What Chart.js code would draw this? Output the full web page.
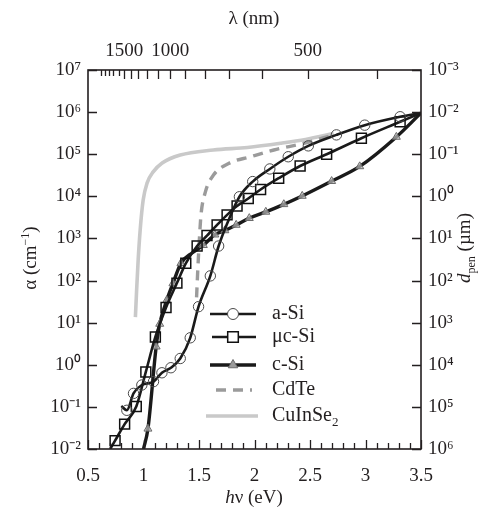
<!DOCTYPE html>
<html>
<head>
<meta charset="utf-8">
<script src="https://cdn.jsdelivr.net/npm/chart.js@4.4.1/dist/chart.umd.min.js"></script>
<style>
  html, body { margin: 0; padding: 0; background: #fff; }
  #wrap { width: 486px; height: 513px; }
</style>
</head>
<body>
<div id="wrap"><canvas id="absChart" width="486" height="513"></canvas></div>
<script>
// Photon energy (eV) and absorption coefficient (cm^-1)
const aSiEnergy = [0.80, 0.85, 0.91, 0.985, 1.09, 1.166, 1.247, 1.331, 1.421, 1.496, 1.602, 1.677, 1.767, 1.864, 1.984, 2.138, 2.304, 2.485, 2.738, 2.993, 3.312, 3.5];
const aSiAlpha = [0.105, 0.083, 0.209, 0.331, 0.398, 0.646, 0.851, 1.41, 4.37, 24, 129, 661, 2750, 9770, 22400, 44700, 87100, 158000, 288000, 490000, 776000, 955000];
const aSiBare = [0.80, 1.767, 3.5];   // energies drawn without a marker

const ucSiEnergy = [0.70, 0.744, 0.830, 0.935, 1.021, 1.107, 1.203, 1.301, 1.381, 1.483, 1.572, 1.663, 1.753, 1.843, 1.944, 2.055, 2.218, 2.411, 2.650, 2.963, 3.312, 3.5];
const ucSiAlpha = [0.01, 0.0158, 0.0389, 0.102, 0.676, 4.57, 22.9, 87.1, 257, 661, 1170, 2090, 3630, 5890, 8910, 14500, 26900, 52500, 100000, 240000, 589000, 955000];
const ucSiBare = [0.70, 3.5];

const cSiEnergy = [1.0, 1.040, 1.114, 1.146, 1.209, 1.265, 1.337, 1.44, 1.539, 1.643, 1.733, 1.835, 1.953, 2.102, 2.264, 2.430, 2.695, 2.948, 3.278, 3.5];
const cSiAlpha = [0.01, 0.0302, 2.69, 9.33, 33.9, 85.1, 257, 457, 692, 1230, 1550, 2090, 3020, 4270, 6460, 10200, 22900, 51300, 257000, 955000];
const cSiBare = [1.0, 1.44, 3.5];

const cdTeEnergy = [1.478, 1.489, 1.503, 1.518, 1.557, 1.632, 1.767, 1.963, 2.174, 2.445, 2.70];
const cdTeAlpha = [39.8, 178, 912, 3630, 12600, 32400, 60300, 87100, 126000, 182000, 282000];

const cisEnergy = [0.927, 0.938, 0.952, 0.970, 0.997, 1.033, 1.087, 1.168, 1.331, 1.629, 1.936, 2.234, 2.460, 2.713];
const cisAlpha = [13.5, 58.9, 309, 1580, 8130, 20900, 38000, 61700, 95500, 126000, 145000, 182000, 224000, 309000];

// Axis ticks
const energyLabels = [0.5, 1, 1.5, 2, 2.5, 3, 3.5];
const alphaTicks = [1e-2, 1e-1, 1e0, 1e1, 1e2, 1e3, 1e4, 1e5, 1e6, 1e7];
const dpenTicks = [1e-3, 1e-2, 1e-1, 1e0, 1e1, 1e2, 1e3, 1e4, 1e5, 1e6];
const wavelengthTicks = [2000, 1900, 1800, 1700, 1600, 1500, 1400, 1300, 1200, 1100, 1000, 900, 800, 700, 600, 500, 400];
const wavelengthLabels = [1500, 1000, 500];

const SERIF = '"Liberation Serif", "Times New Roman", Times, serif';
const INK = '#231f20';

const supDigits = { '0': '⁰', '1': '¹', '2': '²', '3': '³', '4': '⁴', '5': '⁵', '6': '⁶', '7': '⁷', '8': '⁸', '9': '⁹', '-': '⁻' };
function powerLabel(v) {
    const e = String(Math.round(Math.log10(v)));
    return '10' + e.split('').map(c => supDigits[c]).join('');
}

function points(xs, ys) {
    return xs.map((x, i) => ({ x: x, y: ys[i] }));
}

function markerSize(xs, bare, r) {
    return ctx => bare.includes(xs[ctx.dataIndex]) ? 0 : r;
}

// Inward ticks and the plot frame
const frameTicks = {
    id: 'frameTicks',
    afterDatasetsDraw(chart) {
        const { ctx, chartArea: a, scales } = chart;
        ctx.save();
        ctx.strokeStyle = INK;
        ctx.lineWidth = 1.3;
        ctx.beginPath();
        scales.x.ticks.forEach(t => {
            const px = Math.round(scales.x.getPixelForValue(t.value)) + 0.5;
            const major = Math.abs(t.value * 2 - Math.round(t.value * 2)) < 1e-6;
            ctx.moveTo(px, a.bottom);
            ctx.lineTo(px, a.bottom - (major ? 9 : 6));
        });
        scales.x2.ticks.forEach(t => {
            const px = Math.round(scales.x2.getPixelForValue(t.value)) + 0.5;
            const lam = Math.round(1240 / t.value);
            ctx.moveTo(px, a.top);
            ctx.lineTo(px, a.top + (lam > 1500 ? 6 : 9));
        });
        scales.y.ticks.forEach(t => {
            const py = Math.round(scales.y.getPixelForValue(t.value)) + 0.5;
            ctx.moveTo(a.left, py);
            ctx.lineTo(a.left + 9, py);
        });
        scales.y2.ticks.forEach(t => {
            const py = Math.round(scales.y2.getPixelForValue(t.value)) + 0.5;
            ctx.moveTo(a.right, py);
            ctx.lineTo(a.right - 9, py);
        });
        ctx.stroke();
        ctx.lineWidth = 1.6;
        ctx.strokeRect(a.left, a.top, a.right - a.left, a.bottom - a.top);
        ctx.restore();
    }
};

// Axis titles with italic / sub / superscript parts
function drawRuns(ctx, runs, cx, cy) {
    let total = 0;
    runs.forEach(r => { ctx.font = r.font; total += ctx.measureText(r.text).width; });
    let x = cx - total / 2;
    runs.forEach(r => {
        ctx.font = r.font;
        ctx.fillText(r.text, x, cy + (r.dy || 0));
        x += ctx.measureText(r.text).width;
    });
}

const axisTitles = {
    id: 'axisTitles',
    afterDraw(chart) {
        const ctx = chart.ctx;
        ctx.save();
        ctx.fillStyle = INK;
        ctx.textBaseline = 'alphabetic';
        const reg = '19px ' + SERIF;
        const ital = 'italic 19px ' + SERIF;
        const small = '12px ' + SERIF;

        drawRuns(ctx, [{ text: 'λ (nm)', font: reg }], 254, 24);
        drawRuns(ctx, [{ text: 'h', font: ital }, { text: 'ν (eV)', font: reg }], 254, 503);

        ctx.save();
        ctx.translate(36, 258);
        ctx.rotate(-Math.PI / 2);
        drawRuns(ctx, [{ text: 'α (cm', font: reg }, { text: '−1', font: small, dy: -7 }, { text: ')', font: reg }], 0, 0);
        ctx.restore();

        ctx.save();
        ctx.translate(470, 248);
        ctx.rotate(-Math.PI / 2);
        drawRuns(ctx, [{ text: 'd', font: ital }, { text: 'pen', font: small, dy: 5 }, { text: ' (µm)', font: reg }], 0, 0);
        ctx.restore();
        ctx.restore();
    }
};

// Legend drawn inside the plot
function drawMarker(ctx, style, x, y, r) {
    ctx.beginPath();
    if (style === 'circle') {
        ctx.arc(x, y, r, 0, Math.PI * 2);
    } else if (style === 'rect') {
        const s = Math.SQRT1_2 * r;
        ctx.rect(x - s, y - s, 2 * s, 2 * s);
    } else if (style === 'triangle') {
        ctx.moveTo(x, y - r);
        ctx.lineTo(x + r * 0.866, y + r * 0.5);
        ctx.lineTo(x - r * 0.866, y + r * 0.5);
        ctx.closePath();
    }
    ctx.fill();
    ctx.stroke();
}

const insideLegend = {
    id: 'insideLegend',
    afterDraw(chart) {
        const ctx = chart.ctx;
        const rows = [314, 337, 365, 390, 416];
        const spans = [[210, 256], [212, 256], [210, 256], [216, 252], [206, 258]];
        ctx.save();
        chart.data.datasets.forEach((ds, i) => {
            const y = rows[i];
            ctx.strokeStyle = ds.borderColor;
            ctx.lineWidth = ds.borderWidth;
            ctx.setLineDash(ds.borderDash || []);
            ctx.beginPath();
            ctx.moveTo(spans[i][0], y);
            ctx.lineTo(spans[i][1], y);
            ctx.stroke();
            ctx.setLineDash([]);
            if (ds.pointStyle) {
                ctx.strokeStyle = ds.pointBorderColor;
                ctx.lineWidth = ds.pointBorderWidth;
                ctx.fillStyle = ds.legendFill;
                drawMarker(ctx, ds.pointStyle, 233, y, ds.legendRadius);
            }
            ctx.fillStyle = INK;
            ctx.textBaseline = 'middle';
            ctx.font = '20px ' + SERIF;
            if (ds.label === 'CuInSe2') {
                ctx.fillText('CuInSe', 272, y);
                const w = ctx.measureText('CuInSe').width;
                ctx.font = '13px ' + SERIF;
                ctx.fillText('2', 272 + w, y + 7);
            } else {
                ctx.fillText(ds.label, 272, y);
            }
        });
        ctx.restore();
    }
};

const ctx = document.getElementById('absChart').getContext('2d');
new Chart(ctx, {
    type: 'line',
    data: {
        datasets: [
            {
                label: 'a-Si',
                data: points(aSiEnergy, aSiAlpha),
                borderColor: '#1a1a1a',
                borderWidth: 2.6,
                pointStyle: 'circle',
                pointRadius: markerSize(aSiEnergy, aSiBare, 5.2),
                pointBorderColor: '#4a4a4a',
                pointBorderWidth: 1,
                pointBackgroundColor: 'rgba(255,255,255,0)',
                legendFill: '#fff',
                legendRadius: 5.5
            },
            {
                label: 'μc-Si',
                data: points(ucSiEnergy, ucSiAlpha),
                borderColor: '#1a1a1a',
                borderWidth: 2.6,
                pointStyle: 'rect',
                pointRadius: markerSize(ucSiEnergy, ucSiBare, 7),
                pointBorderColor: '#111',
                pointBorderWidth: 1.5,
                pointBackgroundColor: 'rgba(255,255,255,0)',
                legendFill: '#fff',
                legendRadius: 7.5
            },
            {
                label: 'c-Si',
                data: points(cSiEnergy, cSiAlpha),
                borderColor: '#1a1a1a',
                borderWidth: 3.4,
                pointStyle: 'triangle',
                pointRadius: markerSize(cSiEnergy, cSiBare, 4.6),
                pointBorderColor: '#6a6a6a',
                pointBorderWidth: 1,
                pointBackgroundColor: 'rgba(190,190,190,0.7)',
                legendFill: '#9a9a9a',
                legendRadius: 5.5
            },
            {
                label: 'CdTe',
                data: points(cdTeEnergy, cdTeAlpha),
                borderColor: '#9b9b9b',
                borderWidth: 3.4,
                borderDash: [10, 7],
                pointRadius: 0
            },
            {
                label: 'CuInSe2',
                data: points(cisEnergy, cisAlpha),
                borderColor: '#c9c9c9',
                borderWidth: 3.6,
                pointRadius: 0
            }
        ]
    },
    options: {
        responsive: false,
        animation: false,
        layout: { padding: 0 },
        elements: {
            line: { cubicInterpolationMode: 'monotone', fill: false }
        },
        plugins: {
            legend: { display: false },
            tooltip: { enabled: false }
        },
        scales: {
            x: {
                type: 'linear',
                position: 'bottom',
                min: 0.5,
                max: 3.5,
                grid: { display: false, drawTicks: false },
                border: { display: false },
                afterFit: scale => { scale.height = 64; },
                ticks: {
                    stepSize: 0.1,
                    autoSkip: false,
                    maxRotation: 0,
                    minRotation: 0,
                    padding: 16,
                    color: INK,
                    font: { family: SERIF, size: 19 },
                    callback: v => {
                        const r = Math.round(v * 10) / 10;
                        return energyLabels.includes(r) ? String(r) : '';
                    }
                }
            },
            x2: {
                type: 'linear',
                position: 'top',
                min: 0.5,
                max: 3.5,
                grid: { display: false, drawTicks: false },
                border: { display: false },
                afterFit: scale => { scale.height = 70; },
                afterBuildTicks: scale => {
                    scale.ticks = wavelengthTicks.map(l => ({ value: 1240 / l }));
                },
                ticks: {
                    autoSkip: false,
                    maxRotation: 0,
                    minRotation: 0,
                    padding: 8,
                    color: INK,
                    font: { family: SERIF, size: 19 },
                    callback: v => {
                        const lam = Math.round(1240 / v);
                        return wavelengthLabels.includes(lam) ? String(lam) : '';
                    }
                }
            },
            y: {
                type: 'logarithmic',
                position: 'left',
                min: 1e-2,
                max: 1e7,
                grid: { display: false, drawTicks: false },
                border: { display: false },
                afterFit: scale => { scale.width = 88; },
                afterBuildTicks: scale => {
                    scale.ticks = alphaTicks.map(v => ({ value: v }));
                },
                ticks: {
                    autoSkip: false,
                    padding: 7,
                    color: INK,
                    font: { family: SERIF, size: 19 },
                    callback: v => powerLabel(v)
                }
            },
            y2: {
                type: 'logarithmic',
                position: 'right',
                reverse: true,
                min: 1e-3,
                max: 1e6,
                grid: { display: false, drawTicks: false },
                border: { display: false },
                afterFit: scale => { scale.width = 65; },
                afterBuildTicks: scale => {
                    scale.ticks = dpenTicks.map(v => ({ value: v }));
                },
                ticks: {
                    autoSkip: false,
                    padding: 7,
                    color: INK,
                    font: { family: SERIF, size: 19 },
                    callback: v => powerLabel(v)
                }
            }
        }
    },
    plugins: [frameTicks, axisTitles, insideLegend]
});
</script>
</body>
</html>
